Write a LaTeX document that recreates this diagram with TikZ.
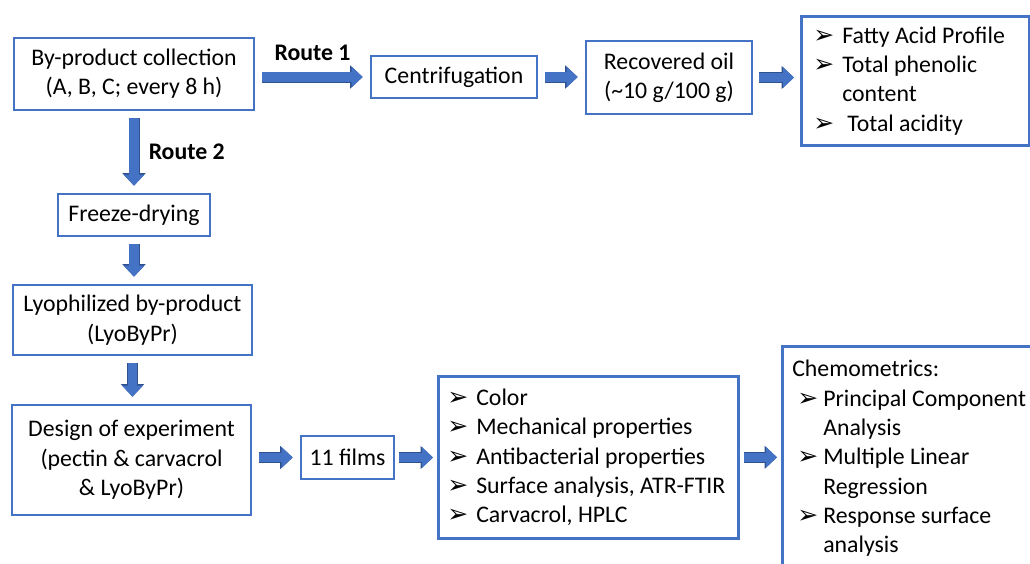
\documentclass[tikz,border=0pt]{standalone}
\usepackage{fontspec}
\setmainfont{Carlito}
\newfontfamily\dingfont{DejaVu Sans}
\usetikzlibrary{positioning,arrows.meta}
\definecolor{boxblue}{HTML}{4472C4}
\definecolor{arrline}{HTML}{2F528F}
\newcommand{\bul}[1][29pt]{\makebox[#1][l]{\dingfont\fontsize{25}{25}\selectfont ➢}}

\begin{document}
\begin{tikzpicture}[x=1pt, y=-1pt,
  every node/.style={font=\fontsize{23.8}{29.3}\selectfont},
  box/.style={draw=boxblue, line width=2.6pt, align=center, inner sep=4pt},
  listbox/.style={box, align=flush left, anchor=north west},
  routelbl/.style={font=\fontsize{23.8}{29.3}\selectfont\bfseries, inner sep=0pt},
  flow/.style={line width=9.5pt, draw=boxblue, -{Triangle[length=11pt,width=20pt]},
    shorten <=#1, shorten >=#1,
    preaction={draw=arrline, line width=11pt, -{Triangle[length=12.5pt,width=22.5pt]}, shorten <=#1, shorten >=#1}},
  flow/.default=7pt]
  \useasboundingbox (0,0) rectangle (1030,563);
  \clip (0,0) rectangle (1030,563);

  % route 1
  \node[box, minimum width=240pt, minimum height=72pt] (coll) at (134,74) {By-product collection\\(A, B, C; every 8 h)};
  \node[box, minimum width=166pt, minimum height=42pt] (cent) at (454,77) {Centrifugation};
  \node[box, minimum width=166pt, minimum height=73pt] (oil) at (669,77.5) {Recovered oil\\(\textasciitilde 10 g/100 g)};
  \node[listbox, text width=204pt, inner xsep=12pt, minimum height=129pt] (oilan) at (800,15)
    {\bul Fatty Acid Profile\\ \bul Total phenolic\\ \hspace*{29pt}content\\ \bul\hspace{5pt}Total acidity};

  % route 2
  \node[box, minimum width=152pt, minimum height=42pt] (freeze) at (134,215) {Freeze-drying};
  \node[box, minimum width=239pt, minimum height=70pt] (lyo) at (132.5,320) {Lyophilized by-product\\(LyoByPr)};
  \node[box, minimum width=239pt, minimum height=110pt] (doe) at (131.5,460) {Design of experiment\\(pectin \& carvacrol\\\& LyoByPr)};
  \node[box, minimum width=93pt, minimum height=43pt] (films) at (347.5,457.5) {11 films};
  \node[listbox, text width=282pt, inner xsep=9pt, minimum height=162pt] (tests) at (437,375)
    {\bul Color\\ \bul Mechanical properties\\ \bul Antibacterial properties\\ \bul Surface analysis, ATR-FTIR\\ \bul Carvacrol, HPLC};
  \node[listbox, text width=300pt, inner xsep=10pt, inner ysep=14pt, text depth=215pt] (chemo) at (781,345)
    {Chemometrics:\\ \hspace*{5pt}\bul[26pt]Principal Component\\ \hspace*{31pt}Analysis\\
     \hspace*{5pt}\bul[26pt]Multiple Linear\\ \hspace*{31pt}Regression\\
     \hspace*{5pt}\bul[26pt]Response surface\\ \hspace*{31pt}analysis};

  \draw[flow] (coll.east |- cent.west) -- node[routelbl, above=12pt] (r1) {Route 1} (cent.west);
  \draw[flow] (cent.east) -- (oil.west |- cent.east);
  \draw[flow=6pt] (oil.east) -- (oilan.west |- oil.east);
  \draw[flow] (coll.south) -- node[routelbl, right=10pt] (r2) {Route 2} (freeze.north);
  \draw[flow] (freeze.south) -- (freeze.south |- lyo.north);
  \draw[flow] (lyo.south) -- (lyo.south |- doe.north);
  \draw[flow] (doe.east |- films.west) -- (films.west);
  \draw[flow=4pt] (films.east) -- (tests.west |- films.east);
  \draw[flow=4pt] (tests.east) -- (tests.east -| chemo.west);
\end{tikzpicture}
\end{document}
